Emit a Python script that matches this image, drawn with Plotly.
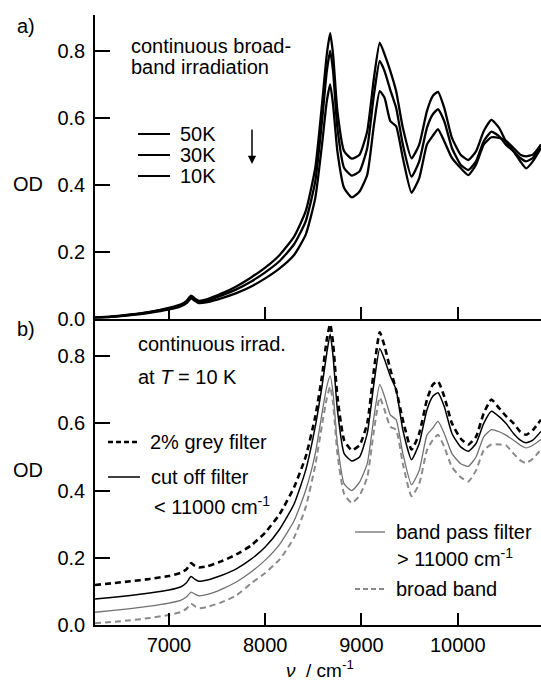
import plotly.graph_objects as go

# ---------------- data ----------------
wavenumber = [6232, 6400, 6600, 6800, 7000, 7120, 7180, 7230, 7270, 7310, 7400, 7550, 7700,
              7850, 8000, 8150, 8300, 8420, 8520, 8590, 8640, 8675, 8705, 8750, 8820, 8900,
              8980, 9060, 9130, 9190, 9240, 9300, 9360, 9430, 9520, 9600, 9680, 9740, 9795,
              9860, 9940, 10030, 10110, 10190, 10270, 10350, 10430, 10500, 10580, 10650,
              10710, 10780, 10865]

# panel a) continuous broad-band irradiation
od_50K = [0.003, 0.006, 0.012, 0.020, 0.032, 0.042, 0.052, 0.068, 0.060, 0.053, 0.058, 0.075, 0.096,
          0.122, 0.152, 0.190, 0.245, 0.320, 0.450, 0.640, 0.790, 0.853, 0.790, 0.620, 0.500, 0.478,
          0.490, 0.560, 0.720, 0.825, 0.790, 0.740, 0.680, 0.570, 0.479, 0.520, 0.620, 0.665, 0.678,
          0.630, 0.540, 0.490, 0.474, 0.500, 0.560, 0.594, 0.570, 0.530, 0.500, 0.470,
          0.449, 0.470, 0.510]
od_30K = [0.002, 0.005, 0.011, 0.019, 0.030, 0.040, 0.050, 0.065, 0.057, 0.050, 0.054, 0.069, 0.087,
          0.110, 0.138, 0.172, 0.222, 0.290, 0.410, 0.590, 0.740, 0.800, 0.740, 0.570, 0.450, 0.427,
          0.440, 0.510, 0.670, 0.770, 0.740, 0.683, 0.630, 0.520, 0.424, 0.470, 0.570, 0.610, 0.626,
          0.590, 0.510, 0.460, 0.444, 0.470, 0.530, 0.559, 0.545, 0.520, 0.500, 0.480,
          0.470, 0.480, 0.520]
od_10K = [0.002, 0.005, 0.010, 0.017, 0.027, 0.036, 0.045, 0.060, 0.053, 0.046, 0.049, 0.061, 0.076,
          0.095, 0.120, 0.150, 0.190, 0.250, 0.360, 0.520, 0.650, 0.700, 0.640, 0.500, 0.390, 0.362,
          0.380, 0.430, 0.580, 0.680, 0.660, 0.590, 0.575, 0.480, 0.376, 0.420, 0.520, 0.546, 0.566,
          0.530, 0.480, 0.450, 0.429, 0.460, 0.520, 0.542, 0.540, 0.532, 0.510, 0.490,
          0.485, 0.490, 0.520]

# panel b) continuous irradiation at T = 10 K
od_grey2 = [0.119, 0.124, 0.130, 0.137, 0.146, 0.155, 0.165, 0.184, 0.176, 0.171, 0.175, 0.190, 0.210,
            0.236, 0.275, 0.330, 0.410, 0.500, 0.620, 0.740, 0.850, 0.895, 0.840, 0.680, 0.550, 0.520,
            0.535, 0.600, 0.760, 0.871, 0.830, 0.760, 0.700, 0.610, 0.522, 0.570, 0.670, 0.715, 0.725,
            0.680, 0.600, 0.555, 0.537, 0.560, 0.630, 0.671, 0.645, 0.622, 0.600, 0.575,
            0.566, 0.580, 0.611]
od_cutoff = [0.077, 0.082, 0.088, 0.095, 0.104, 0.113, 0.125, 0.144, 0.136, 0.130, 0.134, 0.148, 0.167,
             0.195, 0.232, 0.285, 0.360, 0.460, 0.590, 0.710, 0.810, 0.865, 0.800, 0.640, 0.510, 0.488,
             0.500, 0.570, 0.720, 0.823, 0.790, 0.740, 0.700, 0.580, 0.492, 0.540, 0.640, 0.680, 0.691,
             0.650, 0.570, 0.530, 0.517, 0.540, 0.600, 0.636, 0.620, 0.600, 0.570, 0.550,
             0.542, 0.550, 0.576]
od_bandpass = [0.038, 0.043, 0.049, 0.056, 0.065, 0.073, 0.083, 0.098, 0.092, 0.087, 0.091, 0.107, 0.128,
               0.157, 0.193, 0.240, 0.310, 0.400, 0.510, 0.630, 0.710, 0.741, 0.690, 0.540, 0.420, 0.400,
               0.425, 0.480, 0.620, 0.716, 0.680, 0.625, 0.611, 0.510, 0.417, 0.460, 0.565, 0.586, 0.606,
               0.570, 0.510, 0.480, 0.472, 0.500, 0.560, 0.581, 0.575, 0.565, 0.550, 0.535,
               0.527, 0.535, 0.552]
od_broad = [0.005, 0.009, 0.014, 0.021, 0.030, 0.038, 0.048, 0.063, 0.056, 0.050, 0.054, 0.068, 0.088,
            0.123, 0.155, 0.195, 0.260, 0.350, 0.475, 0.595, 0.675, 0.709, 0.660, 0.510, 0.390, 0.363,
            0.385, 0.440, 0.580, 0.677, 0.640, 0.590, 0.581, 0.480, 0.383, 0.420, 0.520, 0.550, 0.566,
            0.530, 0.470, 0.440, 0.427, 0.460, 0.520, 0.537, 0.537, 0.535, 0.510, 0.490,
            0.482, 0.495, 0.522]

x_ticks = [7000, 8000, 9000, 10000]
x_ticklabels = ["7000", "8000", "9000", "10000"]
y_ticks = [0.0, 0.2, 0.4, 0.6, 0.8]
y_ticklabels = ["0.0", "0.2", "0.4", "0.6", "0.8"]

# ---------------- figure ----------------
W, H = 541, 681
ML, MR, MT, MB = 95, 0, 15, 56
PW, PH = W - ML - MR, H - MT - MB
FONT = "Liberation Sans, Arial, Helvetica, sans-serif"
FS = 20


def xp(px):
    return (px - ML) / PW


def yp(py):
    return (H - MB - py) / PH


split = yp(318.5)

fig = go.Figure()

for y in (od_50K, od_30K, od_10K):
    fig.add_trace(go.Scatter(x=wavenumber, y=y, mode="lines", xaxis="x", yaxis="y",
                             line=dict(color="black", width=2.3, shape="spline", smoothing=0.5),
                             showlegend=False, hoverinfo="skip"))

panel_b = [
    (od_grey2, dict(color="black", width=2.6, dash="6px,4px")),
    (od_cutoff, dict(color="black", width=1.5)),
    (od_bandpass, dict(color="#707070", width=1.3)),
    (od_broad, dict(color="#8a8a8a", width=2.0, dash="6px,4px")),
]
for y, ln in panel_b:
    ln = dict(ln, shape="spline", smoothing=0.5)
    fig.add_trace(go.Scatter(x=wavenumber, y=y, mode="lines", xaxis="x2", yaxis="y2",
                             line=ln, showlegend=False, hoverinfo="skip"))

xr = [6232, 10865]
common_x = dict(range=xr, tickvals=x_ticks, ticktext=x_ticklabels, ticks="inside", ticklen=12,
                tickwidth=1.5, tickcolor="black", showline=True, linecolor="black", linewidth=1.5,
                showgrid=False, zeroline=False)
common_y = dict(tickvals=y_ticks, ticktext=y_ticklabels, ticks="inside", ticklen=15,
                tickwidth=1.5, tickcolor="black", showline=True, linecolor="black",
                linewidth=1.5, showgrid=False, zeroline=False, ticklabelstandoff=4)

fig.update_layout(
    width=W, height=H,
    margin=dict(l=ML, r=MR, t=MT, b=MB, pad=0),
    paper_bgcolor="white", plot_bgcolor="white",
    font=dict(family=FONT, size=FS, color="black"),
    xaxis=dict(common_x, anchor="y", showticklabels=False),
    yaxis=dict(common_y, domain=[split, 1], range=[0, 0.9076], anchor="x"),
    xaxis2=dict(common_x, anchor="y2", showticklabels=True, ticklabelstandoff=1),
    yaxis2=dict(common_y, domain=[0, split], range=[0, 0.912], anchor="x2"),
)

anns = []


def ann(text, px, py, xanchor="left", size=FS, color="black"):
    anns.append(dict(text=text, x=xp(px), y=yp(py), xref="paper", yref="paper",
                     xanchor=xanchor, yanchor="middle", showarrow=False,
                     font=dict(size=size, color=color, family=FONT)))


ann("a)", 15, 26)
ann("b)", 15, 329)
ann("OD", 28, 184, xanchor="center")
ann("OD", 28, 470, xanchor="center")

ann("continuous broad-", 129, 46)
ann("band irradiation", 129, 67)
for lbl, py in [("50K", 134), ("30K", 155), ("10K", 176)]:
    ann(lbl, 178, py)

ann("continuous irrad.", 136, 344)
ann("at <i>T</i> = 10 K", 136, 377)
ann("2% grey filter", 148, 442)
ann("cut off filter", 149, 477)
ann("&lt; 11000 cm<sup>-1</sup>", 152, 505)
ann("band pass filter", 394, 532)
ann("&gt; 11000 cm<sup>-1</sup>", 395, 557)
ann("broad band", 394, 589)
ann("<i>ν</i>  / cm<sup>-1</sup>", 320, 669, xanchor="center", size=19)

# arrow (temperature decreasing)
anns.append(dict(x=xp(252), y=yp(164), ax=0, ay=-36, xref="paper", yref="paper",
                 showarrow=True, arrowhead=2, arrowsize=1.1, arrowwidth=1.5,
                 arrowcolor="black", text=""))

shapes = []


def key(px0, px1, py, color, width, dash="solid"):
    shapes.append(dict(type="line", xref="paper", yref="paper", x0=xp(px0), x1=xp(px1),
                       y0=yp(py), y1=yp(py), line=dict(color=color, width=width, dash=dash)))


for py in (134, 155, 176):
    key(138, 170, py, "black", 2)
key(108, 140, 442, "black", 2.4, "5px,3px")
key(108, 140, 477, "black", 1.5)
key(355, 385, 532, "#707070", 1.3)
key(355, 385, 589, "#8a8a8a", 2.0, "5px,3px")

fig.update_layout(annotations=anns, shapes=shapes)

fig.write_html("out.html")
